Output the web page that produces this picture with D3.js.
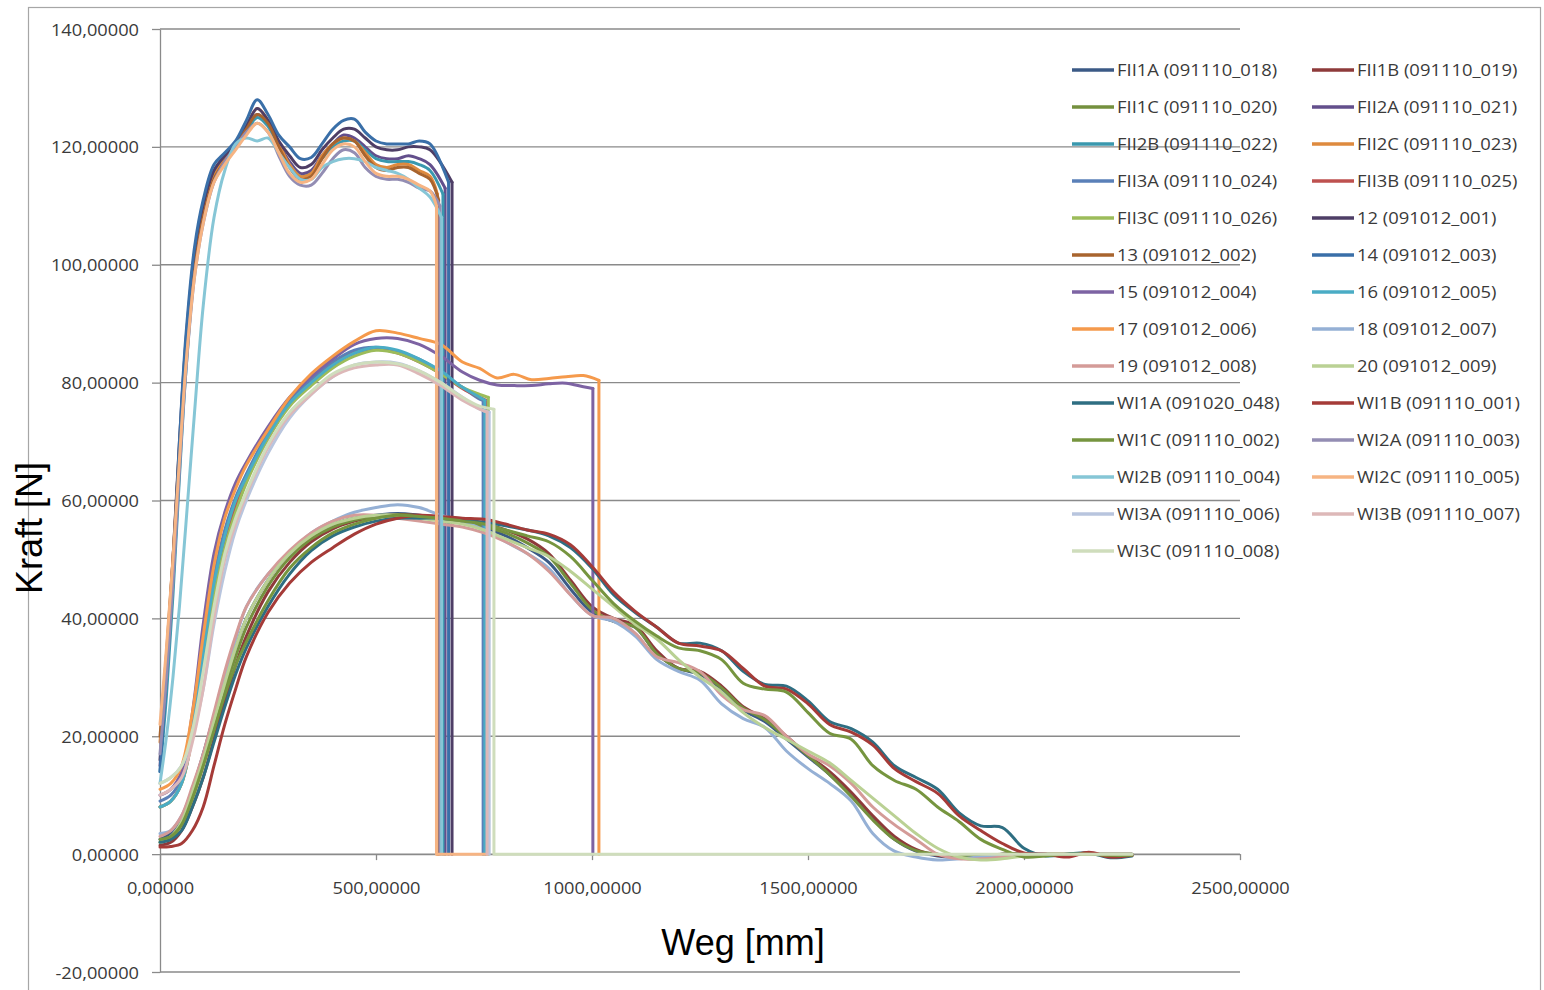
<!DOCTYPE html>
<html>
<head>
<meta charset="utf-8">
<script src="https://cdn.jsdelivr.net/npm/d3@7"></script>
<style>
  html, body { margin: 0; padding: 0; background: #fff; }
  svg { display: block; }
</style>
</head>
<body>
<div id="content"></div>
<script>
// x grids (Weg in mm) shared by the series of each group
const X_HIGH = [0, 15, 30, 45, 60, 80, 100, 125, 150, 175, 200, 225, 250, 275, 300, 325, 350, 375, 400, 425, 450, 475, 500, 525, 550, 575, 600, 625];
const X_MID = [0, 25, 50, 75, 100, 125, 150, 175, 200, 250, 300, 350, 400, 450, 500, 550, 600, 650, 700, 740];
const X_MID_EXT = [0, 25, 50, 75, 100, 125, 150, 175, 200, 250, 300, 350, 400, 450, 500, 550, 600, 650, 700, 740, 780, 820, 860, 900, 940, 980];
const X_LOW = [0, 25, 50, 75, 100, 125, 150, 175, 200, 250, 300, 350, 400, 450, 500, 550, 600, 650, 700, 750, 800, 850, 900, 950, 1000, 1050, 1100, 1150, 1200, 1250, 1300, 1350, 1400, 1450, 1500, 1550, 1600, 1650, 1700, 1750, 1800, 1850, 1900, 1950, 2000, 2050, 2100, 2150, 2200, 2250];

// Kraft [N] values
const V_FII1A = [2.5, 3.5, 6, 11, 17, 23.5, 29.5, 35, 40, 46.5, 51, 54, 56, 57, 57.5, 57.8, 57.5, 57, 56.2, 55.3, 54, 52, 49.5, 45, 41, 39.5, 38.5, 34, 31.5, 30.5, 28, 24.5, 22.5, 19.5, 16.5, 13.5, 10, 6, 2.5, 0.5, -0.3, -0.5, -0.3, 0, 0, 0, 0, 0, 0, 0];
const V_FII1B = [1.5, 2, 4, 8, 13, 19.5, 26, 32, 37, 44.5, 49.5, 53, 55.2, 56.5, 57.3, 57.6, 57.5, 57.2, 56.7, 56, 55, 53.5, 51, 46.5, 42, 40, 38.8, 34.5, 31.5, 31, 28.5, 25, 23, 20, 16.8, 14, 10.5, 6.5, 3, 0.8, -0.2, -0.5, -0.3, 0, 0, 0, 0, 0, 0, 0];
const V_FII1C = [2, 2.8, 5, 9.5, 15, 21.5, 28, 33.5, 38.5, 45.5, 50.3, 53.5, 55.5, 56.7, 57.3, 57.6, 57.4, 57, 56.5, 55.6, 54.5, 52.8, 50.5, 46, 41.5, 39.5, 38.5, 34, 31.5, 30.7, 28.2, 24.8, 22.8, 19.8, 16.7, 13.5, 9.8, 5.8, 2.5, 0.6, 0, -0.3, -0.2, 0, 0, 0, 0, 0, 0, 0];
const V_FII2A = [15, 29, 46, 66, 84, 100, 109, 115.5, 118, 120, 123, 125.5, 124, 120.5, 117.5, 115.5, 116, 118.5, 120.5, 122, 121.5, 120, 118.5, 118, 118, 118.5, 118, 117];
const V_FII2B = [14, 27, 44, 64, 82, 99, 108, 115, 118, 120, 122.5, 125, 123.5, 120, 117, 115, 115.5, 118, 120, 121, 121, 119.5, 118, 117.5, 117.5, 117.5, 117, 116];
const V_FII2C = [19, 33, 50, 69, 85, 100, 109, 115, 118, 120.5, 123.5, 126.5, 124.5, 120.5, 117, 115, 115.5, 118.5, 120.5, 121.5, 121, 119, 117, 116.5, 117, 117, 116, 115];
const V_FII3A = [9, 10, 13, 22, 35, 47, 55, 60.5, 64.5, 71.5, 77, 80.5, 83.5, 85.5, 86, 85.3, 84, 81.8, 79.2, 77.2];
const V_FII3B = [8, 9, 12, 20, 33, 45, 53, 59, 63.5, 70.5, 76.5, 80, 83, 85, 85.8, 85, 83.5, 81.5, 79, 77.5];
const V_FII3C = [8, 9, 12, 20, 32, 44, 52, 58, 63, 70.5, 76, 79.5, 82.5, 84.5, 85.5, 85, 83.5, 81.5, 79.2, 78];
const V_12 = [16, 32, 50, 70, 87, 102, 110, 116, 118.5, 120.5, 123.5, 126.5, 124.5, 121, 118.5, 116.5, 117, 119.5, 121.5, 123, 123, 121.5, 120, 119.5, 119.5, 120, 120, 119.5];
const V_13 = [20, 34, 50, 68, 84, 99, 108, 114.5, 117.5, 120, 123, 125.5, 124, 120, 116.5, 114.5, 115, 118, 120.5, 121.5, 121, 118.5, 116.5, 116, 116.5, 116.5, 115.5, 114.5];
const V_14 = [14, 30, 48, 70, 88, 103, 111, 117, 119, 121, 124.5, 128, 125.5, 122, 120, 118, 118.2, 120.5, 123, 124.5, 124.7, 122.5, 121, 120.5, 120.5, 120.5, 121, 120.5];
const V_15 = [10, 11, 14, 24, 39, 51, 58, 63, 66.5, 72.5, 77.5, 81, 84, 86.5, 87.5, 87.5, 86.5, 84.5, 81.8, 80.4, 79.6, 79.5, 79.5, 79.8, 79.9, 79.3];
const V_16 = [8, 9, 12, 21, 34, 46, 54, 60, 64, 71, 76.5, 80, 83, 85, 86, 85.5, 84, 82, 79.2, 77.5];
const V_17 = [11, 12, 15, 24, 37, 49, 57, 62, 66, 72, 77.5, 81.5, 84.5, 87, 88.8, 88.4, 87.5, 86.5, 83.5, 82.4, 80.8, 81.4, 80.5, 80.7, 81, 81.2];
const V_18 = [3.5, 4, 6.5, 11, 16.5, 23, 30, 36.5, 42, 47.5, 51, 54.5, 56.5, 58, 58.8, 59.3, 58.8, 57.5, 56.5, 55, 53, 51, 48.5, 44, 40.5, 39.5, 37, 33, 31, 29.5, 25.5, 23, 21.5, 17.5, 14.5, 12, 9, 3.5, 0.5, -0.5, -1, -0.8, -0.5, -0.3, 0, 0, 0, 0, 0, 0];
const V_19 = [3, 4, 6.5, 11.5, 17, 24, 31, 37, 42, 47.5, 51.5, 54.5, 56.5, 57.5, 57.5, 57, 56.5, 56, 55.5, 54.5, 53, 51, 48, 44, 40.5, 40, 37.5, 33.5, 32.5, 31, 27, 24.5, 23.5, 20, 17, 15, 12, 8, 5, 2.5, 0, -0.8, -0.8, -0.5, -0.2, 0, 0, 0, 0, 0];
const V_20 = [2, 3, 5.5, 10.5, 16, 22.5, 29, 35, 40, 46.5, 51, 54, 56, 57, 57.5, 57.5, 57, 56.5, 56, 55, 53.5, 52, 50.5, 48, 45, 42, 39, 36.5, 33, 30, 27.5, 24, 21.5, 19.5, 17.5, 15.5, 12.5, 9.5, 6.5, 3.5, 1, -0.5, -1, -0.8, -0.3, 0, 0, 0, 0, 0];
const V_WI1A = [2, 2.5, 4, 8, 13, 19, 25, 30.5, 35, 42, 47.5, 51.5, 54, 55.5, 56.5, 57, 57, 57, 56.7, 56.3, 55.7, 55, 54, 52, 48.5, 44, 41, 38.5, 35.8, 35.8, 34.5, 31, 28.8, 28.5, 26, 22.5, 21.3, 19, 15, 13, 11, 7, 4.8, 4.5, 1, -0.3, 0, 0.2, -0.6, -0.3];
const V_WI1B = [1.2, 1.3, 1.8, 4, 8, 15, 22, 28, 33.5, 41, 46, 49.5, 52, 54.3, 56, 57, 57.5, 57.3, 57, 56.8, 56, 55, 54.3, 52.5, 48.8, 44.5, 41.2, 38.5, 35.8, 35.3, 34.5, 31.5, 28.5, 28, 25.5, 22, 20.7, 18.5, 14.5, 12.3, 10.3, 6.5, 4, 1.8, 0.2, 0, -0.5, 0.3, -0.5, -0.2];
const V_WI1C = [2.5, 3, 5, 9.5, 15, 21, 27, 32, 36, 43, 48.5, 52, 54.5, 56, 57, 57.5, 57.3, 57, 56.5, 56, 55, 54, 53, 50.5, 46.5, 42.5, 39.5, 37, 35, 34.5, 33, 29, 28, 27.5, 24, 20.5, 19.5, 15, 12.5, 11, 8, 5.5, 2.5, 0.8, -0.5, -0.3, 0, 0, -0.2, -0.2];
const V_WI2A = [17, 30, 46, 65, 82, 98, 107, 114, 117.5, 120, 122.5, 124, 122.5, 118.5, 115, 113.5, 113.5, 115.5, 118, 119.5, 119, 116.5, 115, 114.5, 114.5, 114, 113, 112.5];
const V_WI2B = [12, 20, 30, 42, 56, 75, 93, 108, 116, 120.5, 121.5, 121, 121.5, 119, 116.5, 114.5, 114.5, 116.5, 117.5, 118, 118, 117.5, 116.5, 116, 115.5, 114.5, 113, 111.5];
const V_WI2C = [22, 35, 50, 67, 83, 98, 107, 114, 117, 119.5, 122, 124, 122.5, 119, 115.5, 114, 114.5, 117, 119.5, 120.5, 120, 117.5, 115.5, 115, 115, 114.5, 113.5, 112.5];
const V_WI3A = [12, 13, 15, 20, 28, 39, 48, 55, 60, 68, 74, 78, 81, 83, 83.5, 83.3, 82, 80, 77.5, 75.5];
const V_WI3B = [10, 11, 13, 19, 28, 40, 50, 56, 61, 69, 74.5, 78, 81, 82.5, 83, 83, 81.5, 79.5, 77, 75.5];
const V_WI3C = [12, 13, 15, 21, 31, 42, 51, 57, 61.5, 69.5, 75, 78.5, 81.5, 83, 83.5, 83.2, 82, 80, 77.5, 76];

const SERIES_NAMES = [
  'FII1A (091110_018)', 'FII1B (091110_019)', 'FII1C (091110_020)', 'FII2A (091110_021)',
  'FII2B (091110_022)', 'FII2C (091110_023)', 'FII3A (091110_024)', 'FII3B (091110_025)',
  'FII3C (091110_026)', '12 (091012_001)', '13 (091012_002)', '14 (091012_003)',
  '15 (091012_004)', '16 (091012_005)', '17 (091012_006)', '18 (091012_007)',
  '19 (091012_008)', '20 (091012_009)', 'WI1A (091020_048)', 'WI1B (091110_001)',
  'WI1C (091110_002)', 'WI2A (091110_003)', 'WI2B (091110_004)', 'WI2C (091110_005)',
  'WI3A (091110_006)', 'WI3B (091110_007)', 'WI3C (091110_008)'
];
const SERIES_COLORS = [
  '#3b5a86', '#8e3a3a', '#74903e', '#634f8c', '#3a98ae', '#de8a3e', '#5a80b8', '#be514f',
  '#9cbc5a', '#4e3e66', '#a8642e', '#3a6fa8', '#7d63a3', '#4aacc5', '#f59a4c', '#95b0d5',
  '#d49b98', '#bad194', '#2e6e82', '#a53b38', '#76953f', '#938db3', '#86c6d6', '#f6b483',
  '#b8c5de', '#ddb8b8', '#cfddbc'
];
const SERIES_VALUES = [
  V_FII1A, V_FII1B, V_FII1C, V_FII2A, V_FII2B, V_FII2C, V_FII3A, V_FII3B, V_FII3C,
  V_12, V_13, V_14, V_15, V_16, V_17, V_18, V_19, V_20,
  V_WI1A, V_WI1B, V_WI1C, V_WI2A, V_WI2B, V_WI2C, V_WI3A, V_WI3B, V_WI3C
];
const SERIES_GRID = [
  'low', 'low', 'low', 'high', 'high', 'high', 'mid', 'mid', 'mid',
  'high', 'high', 'high', 'midExt', 'mid', 'midExt', 'low', 'low', 'low',
  'low', 'low', 'low', 'high', 'high', 'high', 'mid', 'mid', 'mid'
];
// where the specimen broke: last x and force before the drop to 0
const DROP_X = [null, null, null, 660, 655, 642, 748, 755, 760, 676, 645, 668, 1002, 752, 1016, null, null, null, null, null, null, 648, 652, 640, 762, 757, 773];
const DROP_Y = [null, null, null, 113, 112, 112, 77, 77, 77.5, 114, 111, 114, 79, 77, 80.4, null, null, null, null, null, null, 110, 108, 110, 75, 75, 75.5];
const ZERO_TAIL_X = [null, null, null, null, null, null, null, null, null, null, null, null, null, null, null, null, null, null, null, null, null, null, null, 757, null, null, 2250];

const X_TICKS = [0, 500, 1000, 1500, 2000, 2500];
const Y_TICKS = [-20, 0, 20, 40, 60, 80, 100, 120, 140];

const GRIDS = {high: X_HIGH, mid: X_MID, midExt: X_MID_EXT, low: X_LOW};

var W = 1544, H = 990;
var plotLeft = 160, plotRight = 1240, plotTop = 29, plotBottom = 972;
var gridColor = '#8a8a8a';
var textColor = '#3a3a3a';

var locale = d3.formatLocale({decimal: ',', thousands: '.', grouping: [3], currency: ['', ''], minus: '-'});
var fmt = locale.format('.5f');

var svg = d3.select('#content')
  .append('svg')
  .attr('width', W)
  .attr('height', H);

// chart frame
svg.append('rect')
  .attr('x', 28.5).attr('y', 7.5)
  .attr('width', 1512).attr('height', 1000)
  .attr('fill', 'none')
  .attr('stroke', '#a6a6a6')
  .attr('stroke-width', 1.2);

var x = d3.scaleLinear().domain([0, 2500]).range([plotLeft, plotRight]);
var y = d3.scaleLinear().domain([-20, 140]).range([plotBottom, plotTop]);

// horizontal gridlines
svg.append('g')
  .selectAll('line')
  .data(Y_TICKS)
  .enter()
  .append('line')
  .attr('x1', plotLeft).attr('x2', plotRight)
  .attr('y1', d => y(d)).attr('y2', d => y(d))
  .attr('stroke', gridColor)
  .attr('stroke-width', 1.3);

// y axis
var yAxis = d3.axisLeft(y).tickValues(Y_TICKS).tickSizeInner(8).tickSizeOuter(0).tickFormat(fmt);
var gy = svg.append('g')
  .attr('transform', `translate(${plotLeft},0)`)
  .call(yAxis);
gy.select('.domain').attr('stroke', gridColor).attr('stroke-width', 1.3);
gy.selectAll('.tick line').attr('stroke', gridColor).attr('stroke-width', 1.3);
gy.selectAll('.tick text')
  .attr('x', null).attr('dy', null)
  .attr('transform', 'translate(-21,6) scale(1.14,1)')
  .attr('text-anchor', 'end')
  .attr('fill', textColor)
  .style('font-family', '"Open Sans", sans-serif')
  .style('font-size', '16px');

// x axis on y = 0
var xAxis = d3.axisBottom(x).tickValues(X_TICKS).tickSizeInner(6).tickSizeOuter(0).tickFormat(fmt);
var gx = svg.append('g')
  .attr('transform', `translate(0,${y(0)})`)
  .call(xAxis);
gx.select('.domain').attr('stroke', gridColor).attr('stroke-width', 1.3);
gx.selectAll('.tick line').attr('stroke', gridColor).attr('stroke-width', 1.3);
gx.selectAll('.tick text')
  .attr('y', null).attr('dy', null)
  .attr('transform', 'translate(0,40) scale(1.14,1)')
  .attr('text-anchor', 'middle')
  .attr('fill', textColor)
  .style('font-family', '"Open Sans", sans-serif')
  .style('font-size', '16px');

// series
var smooth = d3.line()
  .x(d => x(d[0]))
  .y(d => y(d[1]))
  .curve(d3.curveCatmullRom.alpha(0.5));
var straight = d3.line()
  .x(d => x(d[0]))
  .y(d => y(d[1]));

var gLines = svg.append('g')
  .attr('fill', 'none')
  .attr('stroke-width', 3)
  .attr('stroke-linejoin', 'round')
  .attr('stroke-linecap', 'round');

SERIES_VALUES.forEach(function (vals, i) {
  var grid = GRIDS[SERIES_GRID[i]];
  var pts = grid.map((gx, k) => [gx, vals[k]]);
  if (DROP_X[i] != null) pts.push([DROP_X[i], DROP_Y[i]]);
  gLines.append('path')
    .attr('d', smooth(pts))
    .attr('stroke', SERIES_COLORS[i]);
  if (DROP_X[i] != null) {
    var drop = [[DROP_X[i], DROP_Y[i]], [DROP_X[i], 0]];
    if (ZERO_TAIL_X[i] != null) drop.push([ZERO_TAIL_X[i], 0]);
    gLines.append('path')
      .attr('d', straight(drop))
      .attr('stroke', SERIES_COLORS[i]);
  }
});

// legend
var legend = svg.append('g');
SERIES_NAMES.forEach(function (name, i) {
  var col = i % 2, row = Math.floor(i / 2);
  var lx = 1072 + col * 240, ly = 70 + row * 37;
  legend.append('line')
    .attr('x1', lx).attr('x2', lx + 42)
    .attr('y1', ly).attr('y2', ly)
    .attr('stroke', SERIES_COLORS[i])
    .attr('stroke-width', 3.5);
  legend.append('text')
    .attr('transform', `translate(${lx + 45},${ly + 6}) scale(1.15,1)`)
    .attr('fill', textColor)
    .style('font-family', '"Open Sans", sans-serif')
    .style('font-size', '16px')
    .text(name);
});

// axis titles
svg.append('text')
  .attr('x', 743).attr('y', 955)
  .attr('text-anchor', 'middle')
  .style('font-family', '"Liberation Sans", Arial, sans-serif')
  .style('font-size', '36px')
  .attr('fill', '#000')
  .text('Weg [mm]');

svg.append('text')
  .attr('transform', 'translate(42,528) rotate(-90)')
  .attr('text-anchor', 'middle')
  .style('font-family', '"Liberation Sans", Arial, sans-serif')
  .style('font-size', '36px')
  .attr('fill', '#000')
  .text('Kraft [N]');
</script>
</body>
</html>
